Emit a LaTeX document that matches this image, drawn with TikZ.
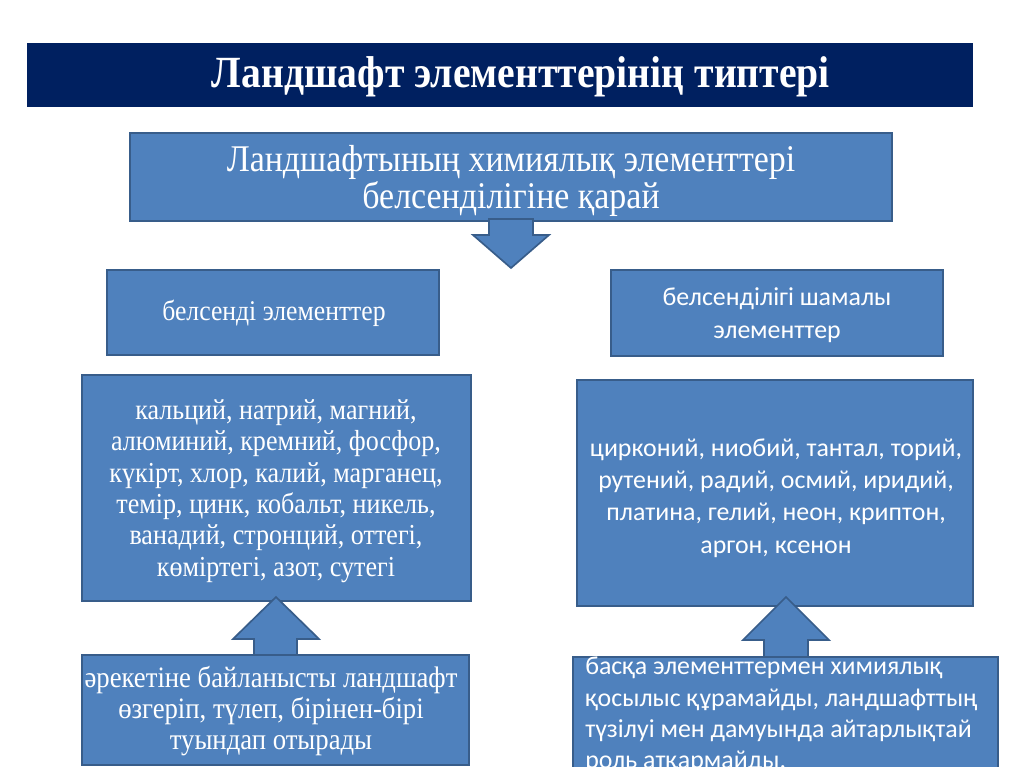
\documentclass[tikz,border=0pt]{standalone}
\usepackage{fontspec}
\setmainfont{Liberation Serif}
\newfontfamily\tnr[FakeStretch=0.9]{Liberation Serif}
\newfontfamily\tnrb[FakeStretch=0.89]{Liberation Serif Bold}
\newfontfamily\calfont{Carlito}
\definecolor{boxfill}{HTML}{4F81BD}
\definecolor{boxline}{HTML}{385D8A}
\definecolor{titlebg}{HTML}{002060}
\tikzset{
  box/.style={rectangle, fill=boxfill, draw=boxline, line width=1.2pt, inner sep=0pt, text=white, align=center},
  blockarrow/.style={fill=boxfill, draw=boxline, line width=1.2pt, line join=miter},
  wtext/.style={text=white, align=center, inner sep=0pt},
  sans/.style={font=\calfont\fontsize{18.4pt}{23.1pt}\selectfont},
}
\newcommand\pbox[5]{%
  \node[box, minimum width={(#4-#2)*0.025cm}, minimum height={(#5-#3)*0.025cm}] (#1) at ({(#2+#4)/2},{(#3+#5)/2}) {};}
\begin{document}
\begin{tikzpicture}[x=0.025cm,y=-0.025cm]
\useasboundingbox (0,0) rectangle (1024,767);
\clip (0,0) rectangle (1024,767);
% title
\node[rectangle, fill=titlebg, inner sep=0pt, minimum width={946*0.025cm}, minimum height={64*0.025cm}] (title) at (500,75) {};
\node[wtext, font=\tnrb\fontsize{31.7pt}{34pt}\selectfont] (titletext) at (521,77) {Ландшафт элементтерінің типтері};
% top box
\pbox{top}{130}{133}{892}{221}
\node[wtext, font=\tnr\fontsize{26.8pt}{26.5pt}\selectfont] (toptext) at (511,181) {Ландшафтының химиялық элементтері\\белсенділігіне қарай};
% down arrow
\draw[blockarrow] (489,219) -- (533,219) -- (533,235) -- (549,235) -- (511,268) -- (473,235) -- (489,235) -- cycle;
% small boxes
\pbox{act}{107}{270}{439}{355}
\node[wtext, font=\tnr\fontsize{20.3pt}{23pt}\selectfont] (acttext) at (274,313) {белсенді элементтер};
\pbox{weak}{611}{270}{943}{356}
\node[wtext, sans] (weaktext) at (777,315) {белсенділігі шамалы\\элементтер};
% big boxes
\pbox{actlist}{82}{375}{471}{601}
\node[wtext, font=\tnr\fontsize{20.6pt}{22.3pt}\selectfont] (actlisttext) at (276,491) {кальций, натрий, магний,\\алюминий, кремний, фосфор,\\күкірт, хлор, калий, марганец,\\темір, цинк, кобальт, никель,\\ванадий, стронций, оттегі,\\көміртегі, азот, сутегі};
\pbox{weaklist}{577}{380}{973}{606}
\node[wtext, sans] (weaklisttext) at (776,498) {цирконий, ниобий, тантал, торий,\\рутений, радий, осмий, иридий,\\платина, гелий, неон, криптон,\\аргон, ксенон};
% up arrows
\draw[blockarrow] (254,657) -- (254,639) -- (233,639) -- (276,597) -- (319,639) -- (297,639) -- (297,657) -- cycle;
\draw[blockarrow] (764,659) -- (764,640) -- (743,640) -- (786,597) -- (829,640) -- (808,640) -- (808,659) -- cycle;
% bottom boxes
\pbox{actnote}{82}{655}{469}{765}
\node[wtext, font=\tnr\fontsize{21.1pt}{22pt}\selectfont] (actnotetext) at (271,711) {әрекетіне байланысты ландшафт\\өзгеріп, түлеп, бірінен-бірі\\туындап отырады};
\pbox{weaknote}{573}{657}{998}{820}
\node[text=white, align=left, anchor=north west, inner sep=0pt, font=\calfont\fontsize{18.4pt}{22.2pt}\selectfont] (weaknotetext) at (585,657) {басқа элементтермен химиялық\\қосылыс құрамайды, ландшафттың\\түзілуі мен дамуында айтарлықтай\\роль атқармайды.};
\end{tikzpicture}
\end{document}
